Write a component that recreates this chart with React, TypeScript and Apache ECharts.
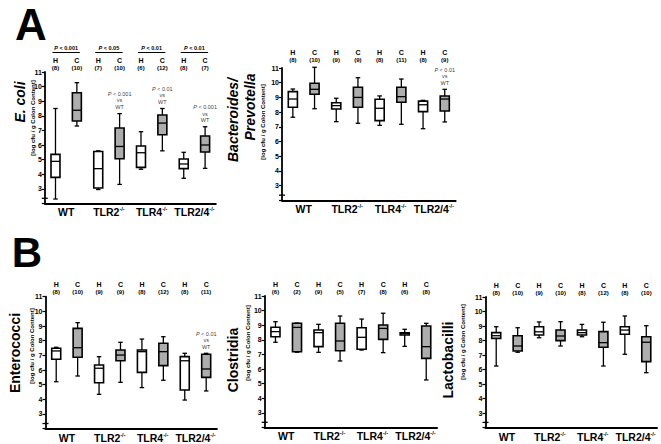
import React, { useEffect, useRef } from "react";
import * as echarts from "echarts";

const FONT = '"Liberation Sans", Arial, Helvetica, sans-serif';

// Categories
const groups = ["WT", "TLR2", "TLR4", "TLR2/4"];
const slots = ["H", "C", "H", "C", "H", "C", "H", "C"];
const yTicks = [3, 4, 5, 6, 7, 8, 9, 10, 11];

// Box values: [lower whisker, Q1, median, Q3, upper whisker], order WT H, WT C, TLR2 H, TLR2 C, ...
const ecoliBoxes = [
  [2.3, 3.78, 4.88, 5.36, 8.5],
  [7.3, 7.64, 8.38, 9.58, 10.27],
  [2.95, 3.05, 4.38, 5.55, 5.6],
  [3.3, 5.06, 5.9, 7.16, 8.15],
  [4.34, 4.47, 5.47, 5.93, 6.91],
  [5.6, 6.7, 7.5, 8.05, 8.5],
  [3.72, 4.38, 4.7, 5.04, 5.5],
  [4.4, 5.52, 6.0, 6.62, 7.25],
];
const bactBoxes = [
  [7.65, 8.33, 8.89, 9.39, 9.57],
  [8.23, 9.21, 9.55, 9.96, 11.05],
  [7.35, 8.21, 8.44, 8.64, 8.94],
  [7.24, 8.33, 9.0, 9.69, 10.34],
  [7.1, 7.42, 8.26, 8.87, 9.1],
  [7.17, 8.67, 9.05, 9.69, 10.25],
  [6.87, 8.03, 8.5, 8.75, 8.8],
  [7.33, 8.07, 8.89, 9.1, 9.55],
];
const enteroBoxes = [
  [5.2, 6.73, 7.3, 7.48, 7.55],
  [5.59, 6.87, 7.52, 8.84, 9.23],
  [4.34, 5.13, 6.12, 6.34, 6.91],
  [5.16, 6.63, 7.02, 7.36, 7.89],
  [4.8, 5.84, 7.25, 7.36, 8.11],
  [5.3, 6.3, 7.25, 7.82, 8.27],
  [3.95, 4.64, 6.63, 6.91, 7.14],
  [4.57, 5.5, 6.07, 7.07, 7.14],
];
const clostBoxes = [
  [7.83, 8.21, 8.56, 8.86, 9.24],
  [7.15, 7.18, 8.85, 9.13, 9.15],
  [7.14, 7.53, 8.49, 8.67, 9.06],
  [6.55, 7.25, 7.92, 9.13, 9.63],
  [7.3, 7.35, 8.17, 8.83, 9.42],
  [7.12, 8.03, 8.78, 9.01, 9.82],
  [7.55, 8.33, 8.42, 8.48, 8.72],
  [5.25, 6.73, 7.53, 8.95, 9.13],
];
const lactoBoxes = [
  [6.24, 8.15, 8.33, 8.54, 8.95],
  [7.19, 7.28, 7.62, 8.33, 8.88],
  [8.19, 8.38, 8.6, 8.95, 9.28],
  [7.62, 7.99, 8.31, 8.72, 9.3],
  [8.26, 8.38, 8.54, 8.72, 9.11],
  [6.24, 7.53, 7.85, 8.61, 9.26],
  [7.05, 8.43, 8.72, 8.95, 9.69],
  [5.78, 6.54, 7.88, 8.26, 9.02],
];

// Group sizes (n)
const ecoliCounts = [8, 10, 7, 10, 6, 12, 8, 7];
const bactCounts = [8, 10, 9, 9, 8, 11, 8, 9];
const enteroCounts = [8, 10, 9, 9, 8, 12, 8, 11];
const clostCounts = [6, 2, 9, 5, 7, 8, 6, 8];
const lactoCounts = [8, 10, 9, 10, 8, 12, 8, 10];

// H vs C p-values (E. coli)
const ecoliPValues = ["< 0.001", "< 0.05", "< 0.01", "< 0.01"];
// "vs WT" annotations: [slot index, p text]
const ecoliVsWT: [number, string][] = [[3, "< 0.001"], [5, "< 0.01"], [7, "< 0.001"]];
const bactVsWT: [number, string][] = [[7, "< 0.01"]];
const enteroVsWT: [number, string][] = [[7, "< 0.01"]];
const clostVsWT: [number, string][] = [];
const lactoVsWT: [number, string][] = [];

// Layout (pixels)
const panels = [
  { data: ecoliBoxes, counts: ecoliCounts, vs: ecoliVsWT, left: 44.8, top: 72, width: 171, unit: 14.6, topMargin: 1 },
  { data: bactBoxes, counts: bactCounts, vs: bactVsWT, left: 282, top: 68, width: 173.6, unit: 14.7, topMargin: 5 },
  { data: enteroBoxes, counts: enteroCounts, vs: enteroVsWT, left: 45.5, top: 296.7, width: 171.4, unit: 14.66, topMargin: 1 },
  { data: clostBoxes, counts: clostCounts, vs: clostVsWT, left: 264.7, top: 296, width: 172.3, unit: 14.6, topMargin: 0.5 },
  { data: lactoBoxes, counts: lactoCounts, vs: lactoVsWT, left: 485.5, top: 297, width: 171.5, unit: 14.5, topMargin: 0.5 },
];

const GRAY = "#adadad";

function renderBox(params: any, api: any) {
  const x = api.value(0);
  const low = api.coord([x, api.value(1)]);
  const q1 = api.coord([x, api.value(2)]);
  const med = api.coord([x, api.value(3)]);
  const q3 = api.coord([x, api.value(4)]);
  const high = api.coord([x, api.value(5)]);
  const band = api.size([1, 0])[0];
  const bw = band * 0.42;
  const cw = bw * 0.5;
  const cx = low[0];
  const ls = { stroke: "#000", lineWidth: 1.3, fill: null };
  return {
    type: "group",
    children: [
      { type: "line", shape: { x1: cx, y1: high[1], x2: cx, y2: q3[1] }, style: ls },
      { type: "line", shape: { x1: cx, y1: q1[1], x2: cx, y2: low[1] }, style: ls },
      { type: "line", shape: { x1: cx - cw / 2, y1: high[1], x2: cx + cw / 2, y2: high[1] }, style: ls },
      { type: "line", shape: { x1: cx - cw / 2, y1: low[1], x2: cx + cw / 2, y2: low[1] }, style: ls },
      {
        type: "rect",
        shape: { x: cx - bw / 2, y: q3[1], width: bw, height: Math.max(q1[1] - q3[1], 1) },
        style: { fill: x % 2 === 1 ? GRAY : "#fff", stroke: "#000", lineWidth: 1.6 },
      },
      { type: "line", shape: { x1: cx - bw / 2, y1: med[1], x2: cx + bw / 2, y2: med[1] }, style: ls },
    ],
  };
}

export default function App() {
  const ref = useRef<HTMLDivElement>(null);
  useEffect(() => {
    if (!ref.current) return;
    const chart = echarts.init(ref.current, null, { renderer: "svg" });
    const grid: any[] = [];
    const xAxis: any[] = [];
    const yAxis: any[] = [];
    const series: any[] = [];
    panels.forEach((p, i) => {
      grid.push({ left: p.left, top: p.top, width: p.width, height: 9 * p.unit, outerBoundsMode: "none", containLabel: false });
      xAxis.push({
        type: "category", gridIndex: i, data: slots, position: "bottom", boundaryGap: true,
        axisLine: { show: true, onZero: false, lineStyle: { color: "#000", width: 2 } },
        axisTick: { show: false }, axisLabel: { show: false }, splitLine: { show: false },
      });
      xAxis.push({
        type: "category", gridIndex: i, data: groups, position: "bottom", boundaryGap: true,
        axisLine: { show: false, onZero: false }, axisTick: { show: false }, splitLine: { show: false },
        axisLabel: {
          interval: 0, margin: 3,
          formatter: (v: string) => (v === "WT" ? `{b|WT}` : `{b|${v}}{s|-/-}`),
          rich: {
            b: { fontSize: 10.5, fontWeight: "bold", fontFamily: FONT, color: "#000", lineHeight: 12 },
            s: { fontSize: 5.5, fontWeight: "bold", fontFamily: FONT, color: "#000", lineHeight: 6, verticalAlign: "top" },
          },
        },
      });
      xAxis.push({
        type: "category", gridIndex: i, data: slots, position: "top", boundaryGap: true,
        axisLine: { show: false, onZero: false }, axisTick: { show: false }, splitLine: { show: false },
        axisLabel: {
          interval: 0, margin: p.topMargin,
          formatter: (v: string, idx: number) => `{h|${v}}\n{n|(${p.counts[idx]})}`,
          rich: {
            h: { fontSize: 7, fontWeight: "bold", fontFamily: FONT, color: "#000", lineHeight: 8 },
            n: { fontSize: 6, fontWeight: "bold", fontFamily: FONT, color: "#000", lineHeight: 7 },
          },
        },
      });
      yAxis.push({
        type: "value", gridIndex: i, min: 2, max: 11, interval: 1,
        axisLine: { show: true, lineStyle: { color: "#000", width: 1.8 } },
        axisTick: { show: true, length: 3, lineStyle: { color: "#000", width: 1.2 } },
        splitLine: { show: false },
        axisLabel: {
          formatter: (v: number) => (yTicks.indexOf(v) >= 0 ? String(v) : ""),
          fontSize: 7, fontWeight: "bold", fontFamily: FONT, color: "#000", margin: 3,
        },
      });
      series.push({
        type: "custom", xAxisIndex: 3 * i, yAxisIndex: i, clip: false,
        renderItem: renderBox,
        encode: { x: 0, y: [1, 2, 3, 4, 5] },
        data: p.data.map((b, k) => [k, ...b]),
      });
      if (p.vs.length) {
        series.push({
          type: "scatter", xAxisIndex: 3 * i, yAxisIndex: i, symbolSize: 1,
          itemStyle: { color: "rgba(0,0,0,0)" },
          data: p.vs.map(([k]) => [k, p.data[k][4]]),
          label: {
            show: true, position: "top", distance: 3,
            formatter: (prm: any) => `{i|P}{n| ${p.vs[prm.dataIndex][1]}}\n{n|vs}\n{n|WT}`,
            rich: {
              i: { fontSize: 5.5, fontStyle: "italic", fontFamily: FONT, color: "#000", lineHeight: 6.5 },
              n: { fontSize: 5.5, fontFamily: FONT, color: "#000", lineHeight: 6.5 },
            },
          },
        });
      }
    });
    chart.setOption({
      animation: false,
      backgroundColor: "#fff",
      textStyle: { fontFamily: FONT },
      grid, xAxis, yAxis, series,
    });

    const txt = (text: string, x: number, y: number, size: number, opts: any = {}) => ({
      type: "text", x, y, rotation: opts.rot ? Math.PI / 2 : 0,
      style: {
        text, fontSize: size, fontWeight: "bold", fontStyle: opts.italic ? "italic" : "normal",
        fontFamily: FONT, fill: "#000", align: "center", verticalAlign: "middle",
      },
    });
    const graphics: any[] = [
      txt("A", 31, 24, 44),
      txt("B", 27, 252, 42),
      txt("E. coli", 20, 102, 14, { rot: true, italic: true }),
      txt("[log cfu / g Colon Content]", 33, 118, 6, { rot: true }),
      txt("Bacteroides/", 233, 120, 14, { rot: true, italic: true }),
      txt("Prevotella", 250, 107, 14, { rot: true, italic: true }),
      txt("[log cfu / g Colon Content]", 263, 122, 6, { rot: true }),
      txt("Enterococci", 15, 353, 14, { rot: true }),
      txt("[log cfu / g Colon Content]", 31.7, 346, 6, { rot: true }),
      txt("Clostridia", 233, 360, 14, { rot: true }),
      txt("[log cfu / g Colon Content]", 248, 343, 6, { rot: true }),
      txt("Lactobacilli", 448, 360, 14, { rot: true }),
      txt("[log cfu / g Colon Content]", 463, 342, 6, { rot: true }),
    ];
    // H vs C brackets for E. coli
    const yTop = chart.convertToPixel({ yAxisIndex: 0 }, 11) as number;
    ecoliPValues.forEach((pv, g) => {
      const xH = chart.convertToPixel({ xAxisIndex: 0 }, 2 * g) as number;
      const xC = chart.convertToPixel({ xAxisIndex: 0 }, 2 * g + 1) as number;
      graphics.push({
        type: "line", shape: { x1: xH - 3, y1: yTop - 19.5, x2: xC + 3, y2: yTop - 19.5 },
        style: { stroke: "#000", lineWidth: 1 },
      });
      graphics.push({
        type: "text", x: (xH + xC) / 2, y: yTop - 24,
        style: {
          text: `{i|P}{n| ${pv}}`, align: "center", verticalAlign: "middle",
          rich: {
            i: { fontSize: 5.5, fontStyle: "italic", fontWeight: "bold", fontFamily: FONT, fill: "#000", color: "#000" },
            n: { fontSize: 5.5, fontWeight: "bold", fontFamily: FONT, fill: "#000", color: "#000" },
          },
        },
      });
    });
    // y-axis break marks
    panels.forEach((p, i) => {
      const yb = chart.convertToPixel({ yAxisIndex: i }, 2.35) as number;
      graphics.push({
        type: "line", shape: { x1: p.left - 3, y1: yb, x2: p.left + 3, y2: yb },
        style: { stroke: "#000", lineWidth: 1.3 },
      });
    });
    chart.setOption({ graphic: graphics });
    return () => chart.dispose();
  }, []);
  return (
    <div
      ref={ref}
      style={{ position: "absolute", left: 0, top: 0, width: 661, height: 444, background: "#fff" }}
    />
  );
}
